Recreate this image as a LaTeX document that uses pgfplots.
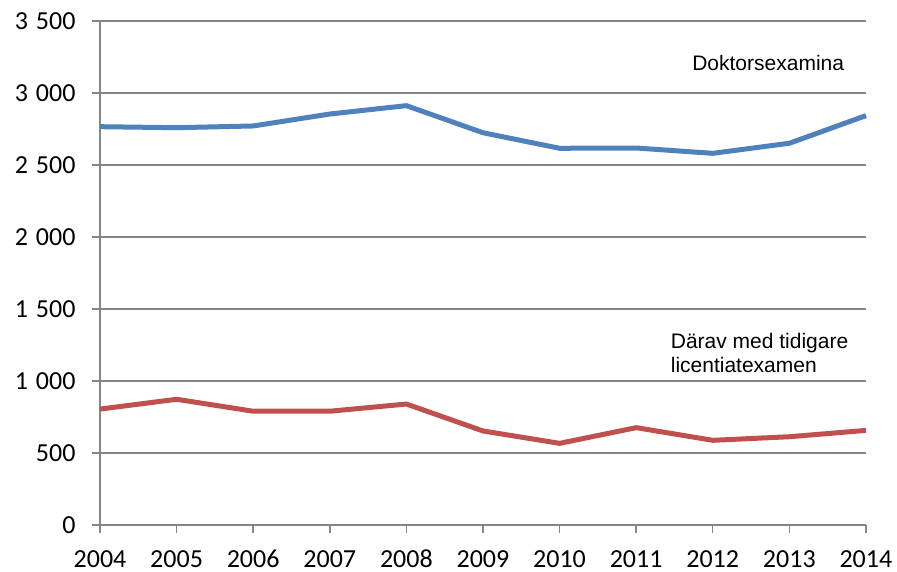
\documentclass[border=0pt]{standalone}
\usepackage{fontspec}
\setmainfont{Carlito}
\newfontfamily\arial{Liberation Sans}
\usepackage{pgfplots}
\pgfplotsset{compat=1.18}
\definecolor{doktor}{RGB}{79,129,189}
\definecolor{licen}{RGB}{192,80,77}
\definecolor{gridgray}{RGB}{134,134,134}

\begin{document}
\begin{tikzpicture}
\begin{axis}[
  at={(0pt,0pt)}, anchor=south west,
  scale only axis, width=766pt, height=504pt,
  xmin=2004, xmax=2014, ymin=0, ymax=3500,
  xtick={2004,...,2014}, ytick={0,500,...,3500},
  axis x line*=bottom, axis y line*=left,
  axis line style={gridgray, line width=1.5pt, -},
  tick align=outside, major tick length=8pt,
  tick style={gridgray, line width=1.5pt},
  ymajorgrids, grid style={gridgray, line width=1.5pt},
  /pgf/number format/assume math mode=true,
  /pgf/number format/1000 sep={\hspace{8pt}},
  x tick label style={/pgf/number format/1000 sep={}, font=\fontsize{26}{30}\selectfont,
    anchor=north, inner sep=0pt, text height=16.4pt, text depth=0pt, yshift=-18pt},
  y tick label style={font=\fontsize{26}{30}\selectfont, xshift=-13pt},
  clip=false]
\addplot[doktor, line width=5pt, line join=round] coordinates {
  (2004,2766) (2005,2759) (2006,2771) (2007,2854) (2008,2912) (2009,2724)
  (2010,2616) (2011,2618) (2012,2581) (2013,2651) (2014,2843)};
\addplot[licen, line width=5pt, line join=round] coordinates {
  (2004,805) (2005,873) (2006,790) (2007,790) (2008,840) (2009,653)
  (2010,567) (2011,676) (2012,588) (2013,613) (2014,657)};
\node[anchor=base west, inner sep=0pt, font=\arial\fontsize{21}{25}\selectfont] at (axis cs:2011.73,3153) {Doktorsexamina};
\node[anchor=base west, inner sep=0pt, font=\arial\fontsize{21}{25}\selectfont] at (axis cs:2011.45,1229) {Därav med tidigare};
\node[anchor=base west, inner sep=0pt, font=\arial\fontsize{21}{25}\selectfont] at (axis cs:2011.45,1062) {licentiatexamen};
\end{axis}
\pgfresetboundingbox
\useasboundingbox (-100pt,-47pt) rectangle (797pt,525pt);
\end{tikzpicture}
\end{document}
